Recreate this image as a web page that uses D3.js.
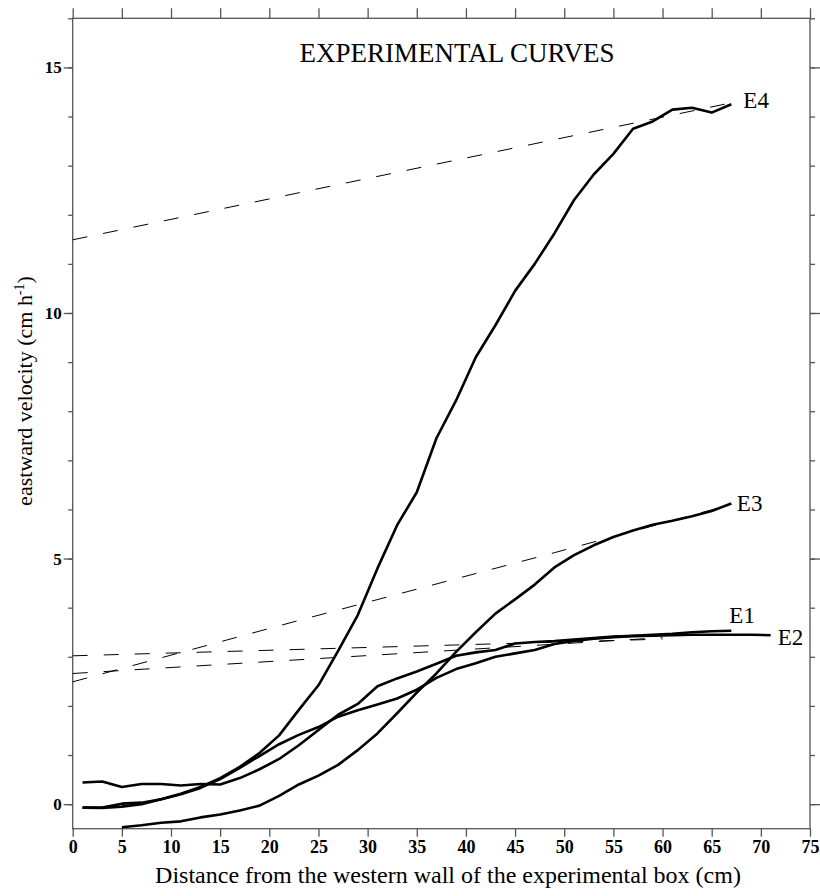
<!DOCTYPE html>
<html>
<head>
<meta charset="utf-8">
<script src="https://cdn.jsdelivr.net/npm/d3@7/dist/d3.min.js"></script>
<style>
  body { margin: 0; background: #fff; }
  svg text { font-family: "Liberation Serif", "Times New Roman", serif; }
</style>
</head>
<body>
<div id="chart"></div>
<script>
// measured curves (distance in cm, eastward velocity in cm/h)
const distE1 = [1, 3, 5, 7, 9, 11, 13, 15, 17, 19, 21, 23, 25, 27, 29, 31, 33, 35, 37, 39, 41, 43, 45, 47, 49, 51, 53, 55, 57, 59, 61, 63, 65, 67];
const velE1 = [0.44, 0.46, 0.35, 0.41, 0.41, 0.38, 0.41, 0.40, 0.53, 0.71, 0.92, 1.20, 1.51, 1.82, 2.04, 2.40, 2.56, 2.70, 2.86, 3.02, 3.09, 3.14, 3.27, 3.30, 3.32, 3.35, 3.38, 3.41, 3.43, 3.45, 3.47, 3.50, 3.52, 3.53];

const distE2 = [1, 3, 5, 7, 9, 11, 13, 15, 17, 19, 21, 23, 25, 27, 29, 31, 33, 35, 37, 39, 41, 43, 45, 47, 49, 51, 53, 55, 57, 59, 61, 63, 65, 67, 69, 71];
const velE2 = [-0.07, -0.07, 0.01, 0.03, 0.10, 0.20, 0.33, 0.51, 0.74, 0.98, 1.22, 1.41, 1.57, 1.78, 1.91, 2.03, 2.15, 2.33, 2.57, 2.75, 2.87, 3.00, 3.07, 3.14, 3.26, 3.32, 3.37, 3.40, 3.42, 3.43, 3.44, 3.45, 3.45, 3.45, 3.45, 3.44];

const distE3 = [5, 7, 9, 11, 13, 15, 17, 19, 21, 23, 25, 27, 29, 31, 33, 35, 37, 39, 41, 43, 45, 47, 49, 51, 53, 55, 57, 59, 61, 63, 65, 67];
const velE3 = [-0.47, -0.43, -0.38, -0.35, -0.27, -0.21, -0.13, -0.03, 0.17, 0.40, 0.58, 0.80, 1.10, 1.44, 1.85, 2.27, 2.66, 3.10, 3.50, 3.88, 4.17, 4.47, 4.82, 5.07, 5.27, 5.44, 5.57, 5.69, 5.77, 5.86, 5.97, 6.12];

const distE4 = [1, 3, 5, 7, 9, 11, 13, 15, 17, 19, 21, 23, 25, 27, 29, 31, 33, 35, 37, 39, 41, 43, 45, 47, 49, 51, 53, 55, 57, 59, 61, 63, 65, 67];
const velE4 = [-0.07, -0.08, -0.05, 0.00, 0.10, 0.21, 0.35, 0.53, 0.76, 1.04, 1.40, 1.92, 2.42, 3.12, 3.85, 4.80, 5.68, 6.35, 7.45, 8.22, 9.10, 9.75, 10.45, 11.00, 11.62, 12.30, 12.82, 13.24, 13.75, 13.90, 14.14, 14.18, 14.08, 14.25];

// fitted (dashed) curves
const fitDistE1 = [0, 60];
const fitVelE1 = [3.02, 3.36];
const fitDistE2 = [0, 60];
const fitVelE2 = [2.66, 3.39];
const fitDistE3 = [0, 23, 49, 67];
const fitVelE3 = [2.49, 3.74, 5.12, 6.10];
const fitDistE4 = [0, 67.5];
const fitVelE4 = [11.49, 14.30];

const curveNames = ["E1", "E2", "E3", "E4"];

const xTicks = [0, 5, 10, 15, 20, 25, 30, 35, 40, 45, 50, 55, 60, 65, 70, 75];
const yMajorTicks = [0, 5, 10, 15];
const yMinorTicks = [0, 1, 2, 3, 4, 5, 6, 7, 8, 9, 10, 11, 12, 13, 14, 15, 16];

const width = 820, height = 896;
const margin = { top: 18.3, right: 10, bottom: 67.3, left: 72.7 };
const plotW = width - margin.left - margin.right;
const plotH = height - margin.top - margin.bottom;

const svg = d3.select("#chart").append("svg")
  .attr("width", width)
  .attr("height", height);

const g = svg.append("g")
  .attr("transform", `translate(${margin.left},${margin.top})`);

const x = d3.scaleLinear().domain([0, 75]).range([0, plotW]);
const y = d3.scaleLinear().domain([-0.5, 16]).range([plotH, 0]);

const axisColor = "#555";

// frame
g.append("rect")
  .attr("width", plotW).attr("height", plotH)
  .attr("fill", "none").attr("stroke", axisColor).attr("stroke-width", 1.3);

function styleAxis(sel) {
  sel.select(".domain").remove();
  sel.selectAll(".tick line").attr("stroke", axisColor).attr("stroke-width", 1.3);
  sel.selectAll(".tick text").attr("fill", "#000");
}

// bottom axis with bold labels
g.append("g")
  .attr("transform", `translate(0,${plotH})`)
  .call(d3.axisBottom(x).tickValues(xTicks).tickSize(8).tickPadding(4))
  .call(styleAxis)
  .call(s => s.selectAll("text")
    .attr("font-family", "Liberation Serif, serif")
    .attr("font-size", 18).attr("font-weight", "bold"));

// top axis, ticks only
g.append("g")
  .call(d3.axisTop(x).tickValues(xTicks).tickSize(10).tickFormat(""))
  .call(styleAxis);

// left axis: minor then major
g.append("g")
  .call(d3.axisLeft(y).tickValues(yMinorTicks).tickSize(4.5).tickFormat(""))
  .call(styleAxis);
g.append("g")
  .call(d3.axisLeft(y).tickValues(yMajorTicks).tickSize(9).tickPadding(2))
  .call(styleAxis)
  .call(s => s.selectAll("text")
    .attr("font-family", "Liberation Serif, serif")
    .attr("font-size", 17).attr("font-weight", "bold"));

// right axis: minor then major
g.append("g")
  .attr("transform", `translate(${plotW},0)`)
  .call(d3.axisRight(y).tickValues(yMinorTicks).tickSize(5).tickFormat(""))
  .call(styleAxis);
g.append("g")
  .attr("transform", `translate(${plotW},0)`)
  .call(d3.axisRight(y).tickValues(yMajorTicks).tickSize(10).tickFormat(""))
  .call(styleAxis);

const line = d3.line()
  .x(d => x(d[0]))
  .y(d => y(d[1]));

const fits = [
  [fitDistE1, fitVelE1],
  [fitDistE2, fitVelE2],
  [fitDistE3, fitVelE3],
  [fitDistE4, fitVelE4]
];
const curves = [
  [distE1, velE1],
  [distE2, velE2],
  [distE3, velE3],
  [distE4, velE4]
];

// dashed fits first, solid curves on top
g.selectAll(".fit")
  .data(fits)
  .enter().append("path")
  .attr("class", "fit")
  .attr("d", d => line(d3.zip(d[0], d[1])))
  .attr("fill", "none")
  .attr("stroke", "#000")
  .attr("stroke-width", 1)
  .attr("stroke-dasharray", "15,16");

g.selectAll(".curve")
  .data(curves)
  .enter().append("path")
  .attr("class", "curve")
  .attr("d", d => line(d3.zip(d[0], d[1])))
  .attr("fill", "none")
  .attr("stroke", "#000")
  .attr("stroke-width", 2.6)
  .attr("stroke-linejoin", "round");

// curve labels, placed next to the end of each curve
const labelOffsets = [[-2, -8], [7, 10], [5.5, 7.5], [12, 3.5]];
g.selectAll(".clabel")
  .data(curves)
  .enter().append("text")
  .attr("class", "clabel")
  .attr("x", (d, i) => x(d[0][d[0].length - 1]) + labelOffsets[i][0])
  .attr("y", (d, i) => y(d[1][d[1].length - 1]) + labelOffsets[i][1])
  .attr("font-size", 23)
  .text((d, i) => curveNames[i]);

// title inside the plot
svg.append("text")
  .attr("x", 457)
  .attr("y", 62)
  .attr("text-anchor", "middle")
  .attr("font-size", 27)
  .text("EXPERIMENTAL CURVES");

// axis titles
svg.append("text")
  .attr("x", 448)
  .attr("y", 883)
  .attr("text-anchor", "middle")
  .attr("font-size", 24)
  .text("Distance from the western wall of the experimental box (cm)");

const yTitle = svg.append("text")
  .attr("transform", "translate(32,391) rotate(-90)")
  .attr("text-anchor", "middle")
  .attr("font-family", "Liberation Serif, serif")
  .attr("font-size", 22);
yTitle.append("tspan").text("eastward velocity (cm h");
yTitle.append("tspan").attr("font-size", 14).attr("dy", -8).text("-1");
yTitle.append("tspan").attr("dy", 8).text(")");
</script>
</body>
</html>
